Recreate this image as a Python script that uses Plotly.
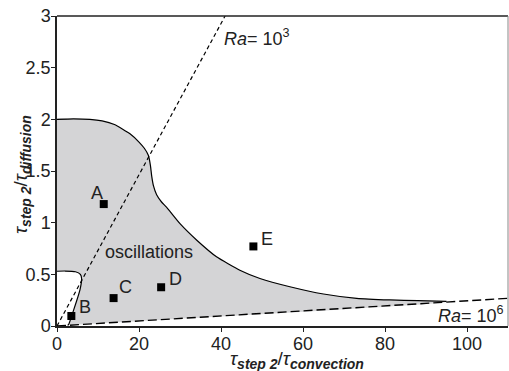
import plotly.graph_objects as go

# Upper boundary of the oscillation region
upper_x = [0, 4, 8, 11, 14, 17.8, 20, 21.3, 22.3, 22.8, 23.1, 23.5, 24.3, 25.5, 26.7, 30, 34.1, 38.9, 44.6, 49.5, 56.8, 65, 73.1, 81.2, 88, 95]
upper_y = [2.0, 2.005, 2.0, 1.985, 1.95, 1.86, 1.78, 1.72, 1.65, 1.55, 1.45, 1.36, 1.27, 1.2, 1.15, 0.99, 0.83, 0.67, 0.54, 0.46, 0.38, 0.31, 0.268, 0.252, 0.245, 0.238]

# White (non-oscillating) patch near origin, from bottom up to the axis
patch_x = [2.6, 2.9, 3.6, 4.6, 5.6, 6.0, 5.7, 4.5, 2.0, 0]
patch_y = [0.006, 0.02, 0.1, 0.22, 0.35, 0.46, 0.5, 0.525, 0.532, 0.53]

# Rayleigh-number lines (endpoints)
ra3_x = [0, 41]
ra3_y = [0, 3]
ra6_x = [0, 110]
ra6_y = [0, 0.268]

# Cases
case_names = ["A", "B", "C", "D", "E"]
case_x = [11.4, 3.5, 13.8, 25.4, 47.9]
case_y = [1.18, 0.097, 0.27, 0.375, 0.77]
label_x = [9.7, 6.9, 16.8, 28.8, 51.2]
label_y = [1.29, 0.18, 0.375, 0.455, 0.84]

x_ticks = [0, 20, 40, 60, 80, 100]
y_ticks = [0, 0.5, 1, 1.5, 2, 2.5, 3]
y_ticktext = ["0", "0.5", "1", "1.5", "2", "2.5", "3"]

slope6 = ra6_y[1] / ra6_x[1]
low_x = [upper_x[-1], patch_x[0]]
low_y = [upper_x[-1] * slope6, patch_x[0] * slope6]

poly_x = upper_x + low_x + patch_x + [upper_x[0]]
poly_y = upper_y + low_y + patch_y + [upper_y[0]]

fig = go.Figure()
fig.add_trace(go.Scatter(x=poly_x, y=poly_y, fill="toself", fillcolor="#d4d4d6",
                         mode="lines", line=dict(width=0, shape="spline", smoothing=0.5), hoverinfo="skip"))
fig.add_trace(go.Scatter(x=upper_x, y=upper_y, mode="lines",
                         line=dict(color="black", width=1.2, shape="spline", smoothing=0.5)))
fig.add_trace(go.Scatter(x=patch_x, y=patch_y, mode="lines",
                         line=dict(color="black", width=1.2, shape="spline", smoothing=0.6)))
fig.add_trace(go.Scatter(x=ra3_x, y=ra3_y, mode="lines", line=dict(color="black", width=1.2, dash="4px,3px")))
fig.add_trace(go.Scatter(x=ra6_x, y=ra6_y, mode="lines", line=dict(color="black", width=1.4, dash="9px,4px")))
fig.add_trace(go.Scatter(x=case_x, y=case_y, mode="markers",
                         marker=dict(symbol="square", size=8, color="black")))

font = "Liberation Sans, Arial, sans-serif"
txt = "#222"
for n, lx, ly in zip(case_names, label_x, label_y):
    fig.add_annotation(x=lx, y=ly, text=n, showarrow=False, font=dict(family=font, size=18, color=txt))

fig.add_annotation(x=22.5, y=0.72, text="oscillations", showarrow=False,
                   font=dict(family=font, size=18, color=txt))
fig.add_annotation(x=40.2, y=2.79, text="<i>Ra</i>= 10<sup>3</sup>", showarrow=False, xanchor="left",
                   font=dict(family=font, size=18, color=txt))
fig.add_annotation(x=109.5, y=0.107, text="<i>Ra</i>= 10<sup>6</sup>", showarrow=False, xanchor="right",
                   font=dict(family=font, size=18, color=txt))

sub = '<sub><span style="font-size:14px"><b><i>%s</i></b></span></sub>'
fig.add_annotation(xref="paper", yref="paper", x=(297 - 57) / 451, y=-(360 - 326) / 310, yanchor="middle",
                   text="<i>τ</i>" + sub % "step 2" + "/<i>τ</i>" + sub % "convection",
                   showarrow=False, font=dict(family=font, size=19, color=txt))
fig.add_annotation(xref="paper", yref="paper", x=-(57 - 22) / 451, y=(326 - 175) / 310, xanchor="center",
                   text="<i>τ</i>" + sub % "step 2" + "/<i>τ</i>" + sub % "diffusion",
                   textangle=-90, showarrow=False, font=dict(family=font, size=19, color=txt))

# top and right frame lines
fig.add_shape(type="line", xref="paper", yref="paper", x0=0, x1=1, y0=1, y1=1, line=dict(color="#222", width=1.5))
fig.add_shape(type="line", xref="paper", yref="paper", x0=1, x1=1, y0=0, y1=1, line=dict(color="#888", width=1))

fig.update_layout(
    width=509, height=371,
    margin=dict(l=57, r=1, t=16, b=45),
    plot_bgcolor="white", paper_bgcolor="white",
    showlegend=False,
    font=dict(family=font, size=18, color=txt),
)
fig.update_xaxes(range=[0, 110], tickvals=x_ticks, ticktext=[str(v) for v in x_ticks],
                 showgrid=False, zeroline=False, showline=True, linecolor="#222", linewidth=1.5,
                 ticks="outside", ticklen=4, tickcolor="#222", tickfont=dict(size=18, color=txt),
                 ticklabelstandoff=-3)
fig.update_yaxes(range=[0, 3], tickvals=y_ticks, ticktext=y_ticktext,
                 showgrid=False, zeroline=False, showline=True, linecolor="#222", linewidth=1.5,
                 ticks="outside", ticklen=4, tickcolor="#222", tickfont=dict(size=18, color=txt),
                 ticklabelstandoff=-3)

fig.write_html("out.html", config={"displayModeBar": False},
               post_script="document.body.style.margin='0';document.body.style.overflow='hidden';")
